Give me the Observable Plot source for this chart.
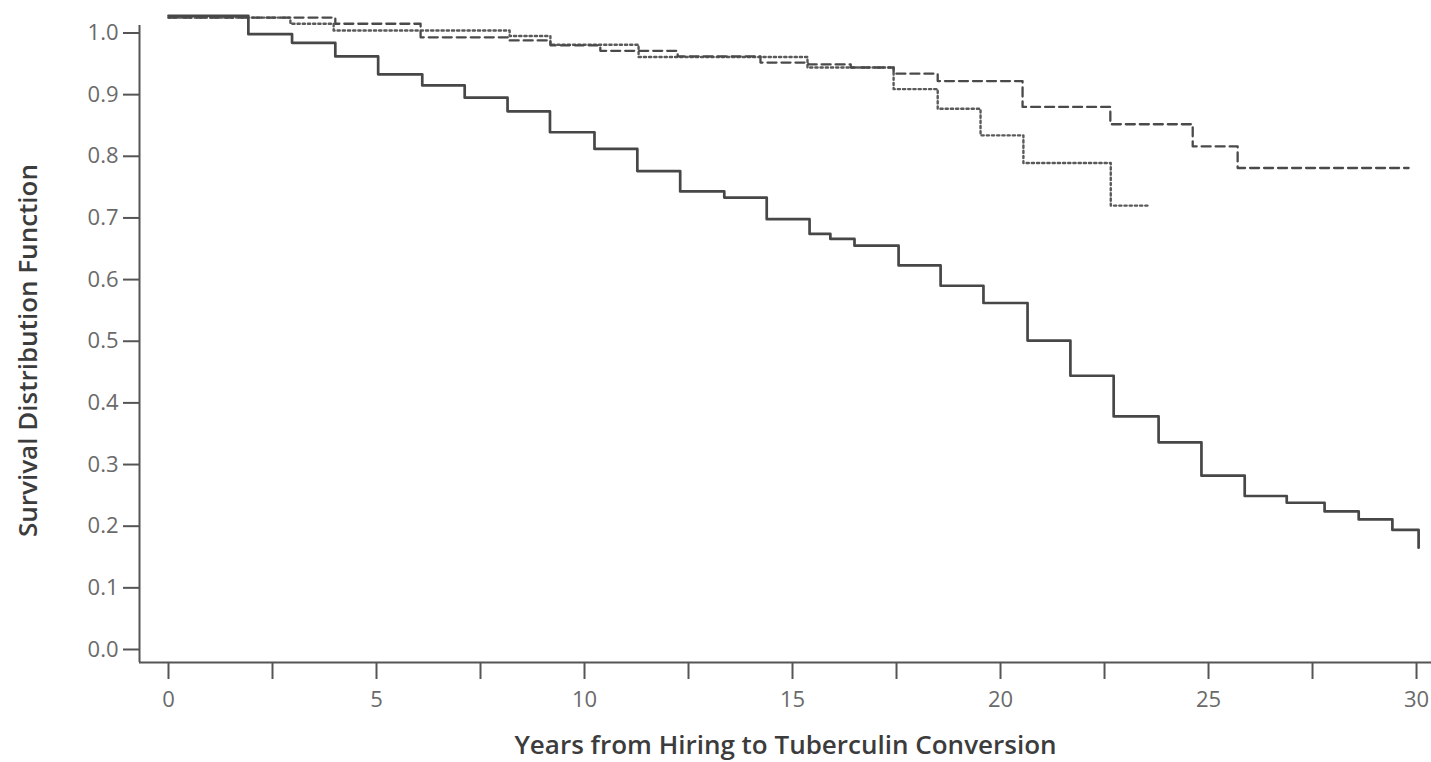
<!DOCTYPE html>
<html>
<head>
<meta charset="utf-8">
<script src="https://cdn.jsdelivr.net/npm/d3@7"></script>
<script src="https://cdn.jsdelivr.net/npm/@observablehq/plot@0.6"></script>
<style>
  html, body { margin: 0; padding: 0; background: #fff; }
</style>
</head>
<body>
<div id="chart"></div>
<script>
// ---- Data ----
// Solid curve: event times (years) and survival after each event
const solidT = [0, 1.92, 2.97, 4.01, 5.04, 6.10, 7.12, 8.15, 9.17, 10.24, 11.27, 12.30, 13.36, 14.38, 15.41, 15.91, 16.49, 17.55, 18.56, 19.59, 20.65, 21.68, 22.72, 23.80, 24.83, 25.87, 26.88, 27.79, 28.61, 29.42, 30.05];
const solidS = [1.028, 0.998, 0.984, 0.962, 0.933, 0.915, 0.895, 0.873, 0.839, 0.812, 0.776, 0.743, 0.733, 0.698, 0.674, 0.666, 0.655, 0.623, 0.590, 0.562, 0.501, 0.444, 0.378, 0.336, 0.282, 0.249, 0.238, 0.224, 0.211, 0.194, 0.165];

// Dashed curve
const dashedT = [0, 4.01, 6.06, 8.20, 9.18, 10.38, 12.24, 14.23, 15.38, 16.40, 17.43, 18.49, 20.53, 22.64, 24.62, 25.70, 29.81];
const dashedS = [1.025, 1.015, 0.993, 0.988, 0.980, 0.971, 0.962, 0.952, 0.949, 0.944, 0.934, 0.922, 0.880, 0.852, 0.816, 0.781, 0.781];

// Dotted curve
const dottedT = [0, 2.93, 3.97, 8.20, 9.18, 11.30, 15.36, 17.43, 18.49, 19.52, 20.55, 22.65, 23.56];
const dottedS = [1.025, 1.015, 1.004, 0.995, 0.981, 0.961, 0.944, 0.909, 0.877, 0.834, 0.789, 0.720, 0.720];

// Axis ticks and labels
const xTicks = [0, 2.5, 5, 7.5, 10, 12.5, 15, 17.5, 20, 22.5, 25, 27.5, 30];
const xTickLabels = ["0", "", "5", "", "10", "", "15", "", "20", "", "25", "", "30"];
const yTicks = [0, 0.1, 0.2, 0.3, 0.4, 0.5, 0.6, 0.7, 0.8, 0.9, 1.0];
const yTickLabels = ["0.0", "0.1", "0.2", "0.3", "0.4", "0.5", "0.6", "0.7", "0.8", "0.9", "1.0"];
const xTitle = "Years from Hiring to Tuberculin Conversion";
const yTitle = "Survival Distribution Function";

// ---- Build tables ----
const solid = solidT.map((t, i) => ({t, s: solidS[i]}));
const dashed = dashedT.map((t, i) => ({t, s: dashedS[i]}));
const dotted = dottedT.map((t, i) => ({t, s: dottedS[i]}));

const xMin = -0.697, xMax = 30.36;
const yMin = -0.0211, yMax = 1.0527, yAxisTop = 1.012;

const chart = Plot.plot({
  width: 1431,
  height: 762,
  marginLeft: 139,
  marginRight: 0,
  marginTop: 0,
  marginBottom: 100,
  x: {domain: [xMin, xMax]},
  y: {domain: [yMin, yMax]},
  style: {fontFamily: "'Open Sans', sans-serif", fontSize: "22px", background: "#fff"},
  marks: [
    // axis lines
    Plot.ruleY([yMin], {x1: xMin, x2: xMax, stroke: "#555", strokeWidth: 2}),
    Plot.ruleX([xMin], {y1: yMin, y2: yAxisTop, stroke: "#555", strokeWidth: 2}),
    Plot.axisX({
      ticks: xTicks,
      tickFormat: (d) => xTickLabels[xTicks.indexOf(d)],
      tickSize: 17,
      tickPadding: 12,
      stroke: "#555",
      strokeWidth: 2,
      color: "#6a6a6a",
      fontSize: 22,
      label: null
    }),
    Plot.axisY({
      ticks: yTicks,
      tickFormat: (d) => yTickLabels[yTicks.indexOf(d)],
      tickSize: 16,
      tickPadding: 5,
      stroke: "#555",
      strokeWidth: 2,
      color: "#6a6a6a",
      fontSize: 22,
      label: null
    }),
    // curves
    Plot.line(dotted, {x: "t", y: "s", curve: "step-after", stroke: "#5a5a5a", strokeWidth: 2.4, strokeDasharray: "2.2,3"}),
    Plot.line(dashed, {x: "t", y: "s", curve: "step-after", stroke: "#4a4a4a", strokeWidth: 2.3, strokeDasharray: "9,5"}),
    Plot.line(solid, {x: "t", y: "s", curve: "step-after", stroke: "#474747", strokeWidth: 2.7}),
    // axis titles
    Plot.text([xTitle], {frameAnchor: "bottom", lineAnchor: "middle", dy: 83, fontSize: 26, fontWeight: 600, fill: "#3c3c3c"}),
    Plot.text([yTitle], {frameAnchor: "left", textAnchor: "middle", lineAnchor: "middle", dx: -111, dy: 19, rotate: -90, fontSize: 26, fontWeight: 600, fill: "#3c3c3c"})
  ]
});

document.getElementById("chart").appendChild(chart);
</script>
</body>
</html>
